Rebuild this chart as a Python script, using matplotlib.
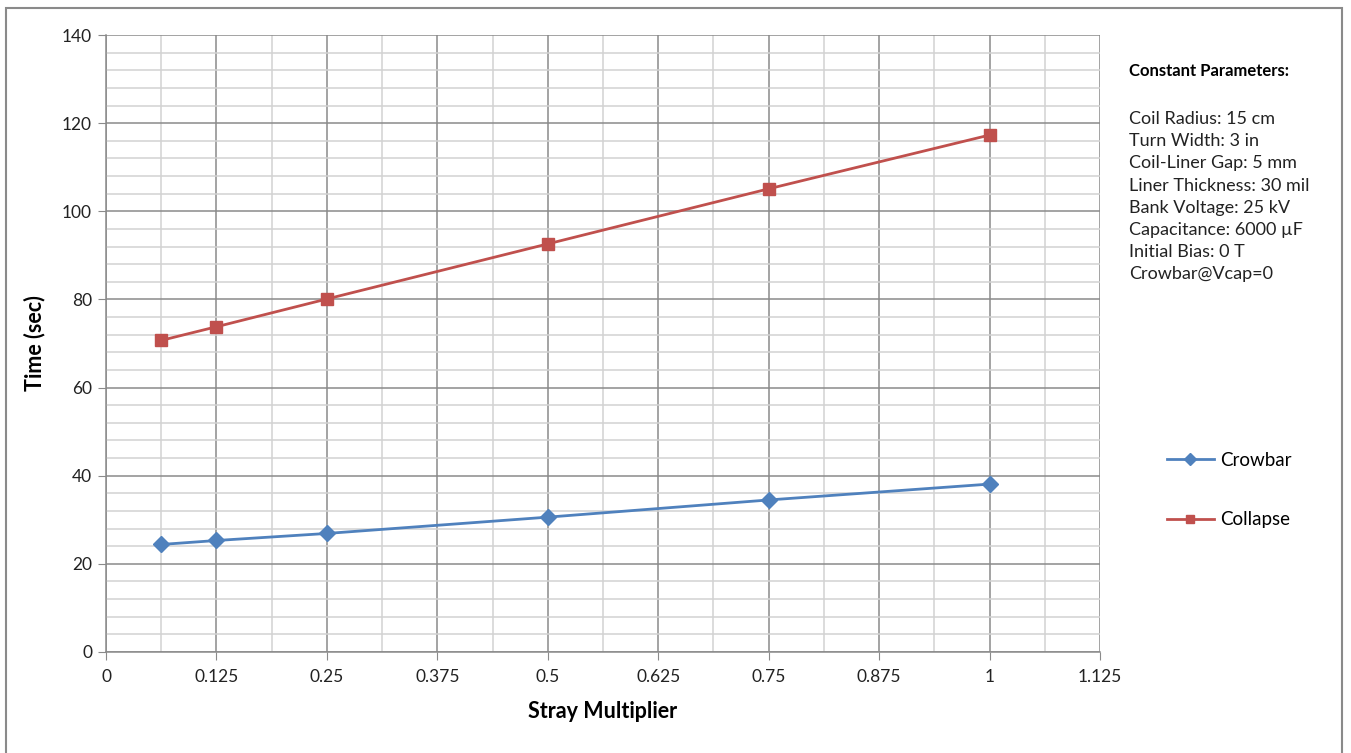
import matplotlib.pyplot as plt
from matplotlib.ticker import MultipleLocator
from matplotlib.patches import Rectangle

stray = [0.0625, 0.125, 0.25, 0.5, 0.75, 1.0]
crowbar = [24.4, 25.3, 26.9, 30.6, 34.5, 38.1]
collapse = [70.7, 73.8, 80.1, 92.6, 105.1, 117.3]

x_ticks = [0, 0.125, 0.25, 0.375, 0.5, 0.625, 0.75, 0.875, 1, 1.125]
x_labels = ['0', '0.125', '0.25', '0.375', '0.5', '0.625', '0.75', '0.875', '1', '1.125']

params_title = 'Constant Parameters:'
params = ['Coil Radius: 15 cm', 'Turn Width: 3 in', 'Coil-Liner Gap: 5 mm',
          'Liner Thickness: 30 mil', 'Bank Voltage: 25 kV', 'Capacitance: 6000 \u00b5F',
          'Initial Bias: 0 T', 'Crowbar@Vcap=0']

plt.rcParams['font.family'] = ['Lato', 'DejaVu Sans']

W, H = 1351, 753
fig = plt.figure(figsize=(W / 100, H / 100), dpi=100)
ax = fig.add_axes([106 / W, 1 - 652 / H, (1100 - 106) / W, (652 - 35) / H])

blue = '#4F81BD'
red = '#C0504D'

ax.plot(stray, crowbar, color=blue, lw=2, marker='D', ms=8, label='Crowbar', zorder=3)
ax.plot(stray, collapse, color=red, lw=2, marker='s', ms=8.5, label='Collapse', zorder=3)

ax.set_xlim(0, 1.125)
ax.set_ylim(0, 140)
ax.set_xticks(x_ticks)
ax.set_xticklabels(x_labels)
ax.xaxis.set_minor_locator(MultipleLocator(0.0625))
ax.yaxis.set_major_locator(MultipleLocator(20))
ax.yaxis.set_minor_locator(MultipleLocator(4))

ax.grid(which='major', color='#8a8a8a', lw=1.1, zorder=1)
ax.grid(which='minor', color='#d2d2d2', lw=1.1, zorder=0)
ax.set_axisbelow(True)

for s in ['top', 'right']:
    ax.spines[s].set_visible(False)
for s in ['left', 'bottom']:
    ax.spines[s].set_color('#8a8a8a')
    ax.spines[s].set_linewidth(1.1)

ax.tick_params(which='major', direction='out', length=6, color='#8a8a8a',
               labelsize=12.5, labelcolor='#222222', pad=4)
ax.tick_params(which='minor', length=0)
ax.tick_params(axis='x', pad=6)

ax.set_xlabel('Stray Multiplier', fontsize=15.5, fontweight='bold', labelpad=12)
ax.set_ylabel('Time (sec)', fontsize=15.5, fontweight='bold', labelpad=12)

fig.text(1129 / W, 1 - 71 / H, params_title, fontsize=12, fontweight='bold', va='center')
for i, line in enumerate(params):
    fig.text(1129 / W, 1 - (119 + i * 22.2) / H, line, fontsize=13, va='center', color='#222222')

leg = fig.legend(loc='upper left', bbox_to_anchor=(1150 / W, 1 - 435 / H), frameon=False,
                 fontsize=13.5, handlelength=2.5, labelspacing=2.25, handletextpad=0.35,
                 markerscale=0.75)

fig.patches.append(Rectangle((6 / W, -0.01), (1342 - 6) / W, 1 - 8 / H + 0.01,
                             transform=fig.transFigure, fill=False, edgecolor='#8a8a8a', lw=1.5))

fig.savefig('out.png', dpi=100)
